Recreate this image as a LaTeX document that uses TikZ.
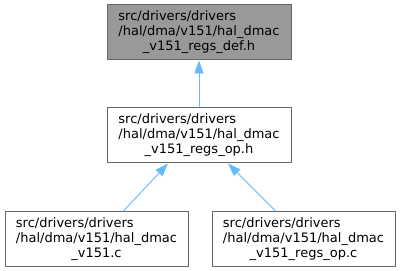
\documentclass[tikz,border=0pt]{standalone}
\usepackage{fontspec}
\setsansfont{DejaVu Sans}
\usetikzlibrary{arrows.meta,positioning}
\definecolor{edgeblue}{HTML}{63B8FF}
\definecolor{framegray}{HTML}{666666}
\definecolor{rootgray}{HTML}{999999}
\newcommand{\fname}[3]{\begin{tabular}{@{}l@{}}#1\\#2\\\multicolumn{1}{@{}c@{}}{#3}\end{tabular}}

\begin{document}
\begin{tikzpicture}[x=1pt,y=1pt,font=\sffamily\fontsize{13}{15}\selectfont,
  file/.style={draw=framegray,line width=1pt,fill=white,inner sep=0pt,
    minimum width=184pt,minimum height=55pt},
  root/.style={file,fill=rootgray},
  dep/.style={-{Triangle[length=13pt,width=9pt]},draw=edgeblue,line width=0.9pt}]
  \useasboundingbox (0,0) rectangle (400,271);
  \node[root] (regsdef) at (199,238.5)
    {\fname{src/drivers/drivers}{/hal/dma/v151/hal\_dmac}{\_v151\_regs\_def.h}};
  \node[file,below=47pt of regsdef] (regsop)
    {\fname{src/drivers/drivers}{/hal/dma/v151/hal\_dmac}{\_v151\_regs\_op.h}};
  \node[file,minimum width=183pt,below=48pt of regsop.south,anchor=north,xshift=-102.5pt] (dmac)
    {\fname{src/drivers/drivers}{/hal/dma/v151/hal\_dmac}{\_v151.c}};
  \node[file,minimum width=183pt,below=48pt of regsop.south,anchor=north,xshift=104.5pt] (regsopc)
    {\fname{src/drivers/drivers}{/hal/dma/v151/hal\_dmac}{\_v151\_regs\_op.c}};
  \draw[dep] (regsop) -- (regsdef);
  \draw[dep] ([xshift=26.5pt]dmac.north) -- ([xshift=-31pt]regsop.south);
  \draw[dep] ([xshift=-27.5pt]regsopc.north) -- ([xshift=29pt]regsop.south);
\end{tikzpicture}
\end{document}
